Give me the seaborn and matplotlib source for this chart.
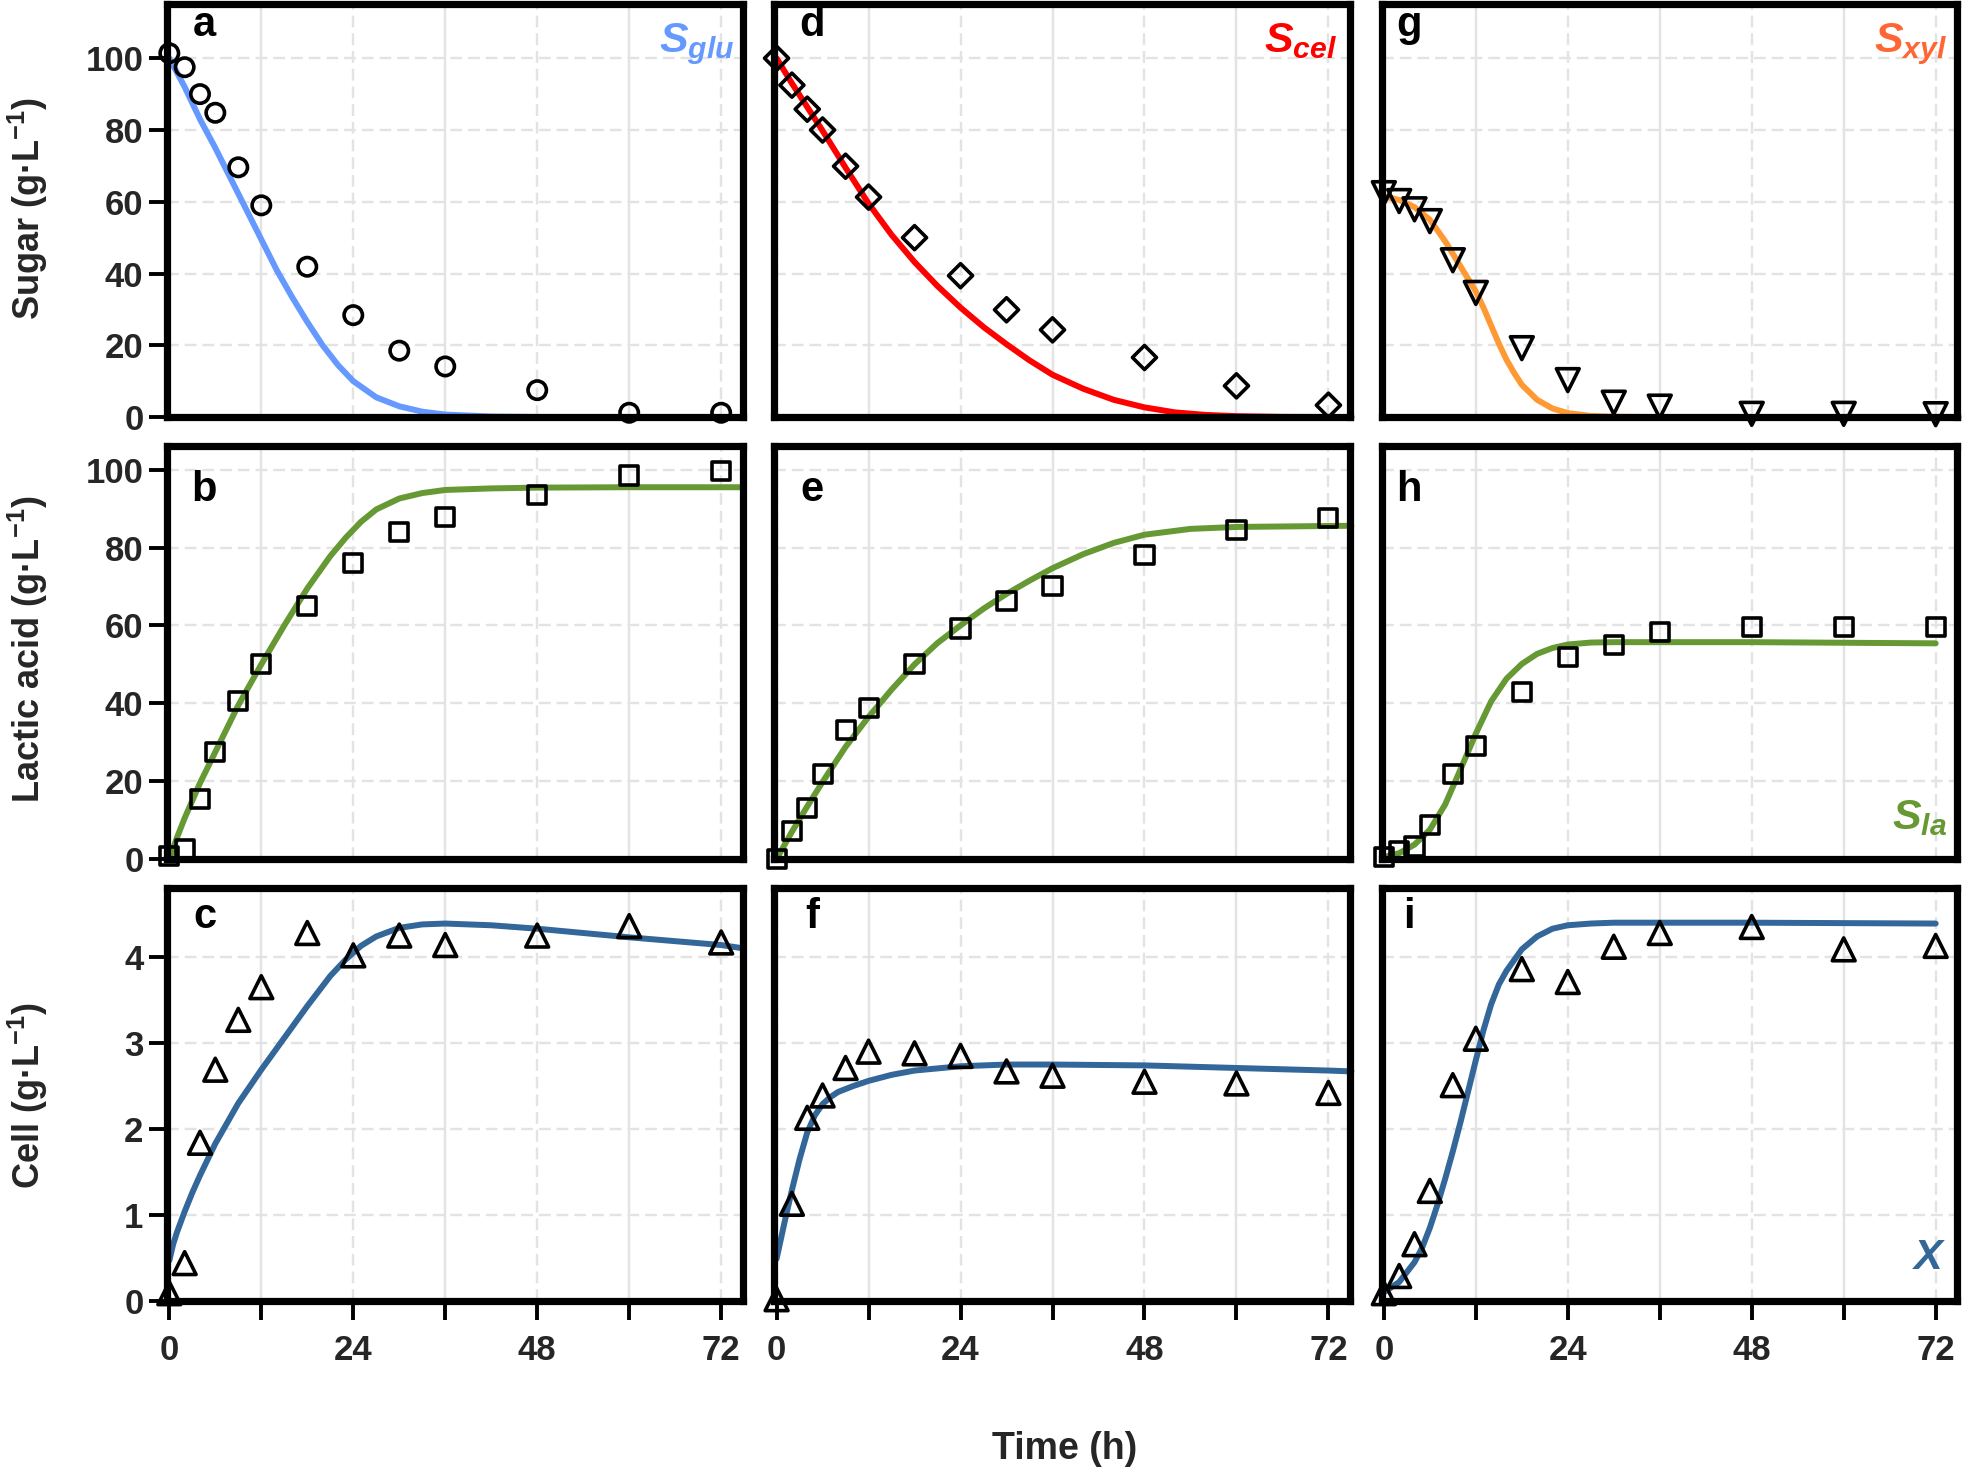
import matplotlib
matplotlib.use('Agg')
import matplotlib.pyplot as plt
from matplotlib import font_manager
from matplotlib.ticker import MultipleLocator
import seaborn as sns

# sampling times (h)
time_pts = [0, 2, 4, 6, 9, 12, 18, 24, 30, 36, 48, 60, 72]

glu_pts = [101.4, 97.5, 90.0, 84.8, 69.6, 59.0, 41.9, 28.4, 18.5, 14.1, 7.5, 1.2, 1.2]
cel_pts = [100.0, 92.5, 85.8, 80.0, 69.9, 61.3, 50.0, 39.4, 29.9, 24.3, 16.6, 8.7, 3.3]
xyl_pts = [62.4, 60.2, 57.9, 54.6, 43.7, 34.6, 19.2, 10.3, 4.0, 2.9, 0.9, 0.9, 0.8]

la_glu_pts = [0.8, 2.6, 15.3, 27.5, 40.6, 50.0, 65.1, 76.0, 84.0, 87.9, 93.6, 98.5, 99.7]
la_cel_pts = [0.0, 7.2, 13.2, 21.9, 33.2, 38.7, 50.2, 59.2, 66.2, 70.2, 78.1, 84.5, 87.7]
la_xyl_pts = [0.5, 2.0, 3.2, 8.8, 21.8, 29.1, 42.9, 52.0, 55.0, 58.2, 59.7, 59.5, 59.7]

x_glu_pts = [0.09, 0.44, 1.84, 2.69, 3.27, 3.65, 4.28, 4.02, 4.25, 4.14, 4.25, 4.36, 4.17]
x_cel_pts = [0.02, 1.13, 2.13, 2.39, 2.71, 2.90, 2.88, 2.85, 2.67, 2.62, 2.55, 2.53, 2.42]
x_xyl_pts = [0.09, 0.29, 0.66, 1.28, 2.51, 3.05, 3.86, 3.71, 4.12, 4.28, 4.35, 4.09, 4.13]

# model curves
glu_fit_t = [0, 2, 4, 6, 8, 10, 12, 14, 16, 18, 20, 22, 24, 27, 30, 33, 36, 42, 48, 60, 75]
glu_fit = [100, 92, 83, 75, 66.5, 58, 49.5, 41, 33.5, 26.5, 20, 14.5, 10, 5.5, 3, 1.5,
           0.7, 0.15, 0.03, 0, 0]
cel_fit_t = [0, 2, 4, 6, 9, 12, 15, 18, 21, 24, 27, 30, 33, 36, 40, 44, 48, 52, 56, 60, 66, 75]
cel_fit = [100, 93, 86.4, 79.8, 69.5, 59.5, 50.8, 43.2, 36.5, 30.5, 25.1, 20.3, 15.8, 11.8,
           7.9, 4.8, 2.7, 1.3, 0.6, 0.25, 0.05, 0]
xyl_fit_t = [0, 2, 4, 6, 8, 10, 12, 13, 14, 15, 16, 17, 18, 20, 22, 24, 27, 30, 36, 75]
xyl_fit = [61.5, 60.5, 58.5, 55, 49, 42, 35, 30.5, 25.5, 20.5, 16, 12.3, 9, 4.8, 2.4, 1.1,
           0.3, 0.1, 0, 0]

la_glu_fit_t = [0, 1, 2, 4, 6, 9, 12, 15, 18, 21, 23, 25, 27, 30, 33, 36, 42, 48, 60, 75]
la_glu_fit = [0, 5.5, 10.5, 19.5, 27.5, 39.5, 50, 60, 69.5, 77.8, 82.5, 86.6, 89.8, 92.6,
              94.0, 94.8, 95.2, 95.4, 95.5, 95.5]
la_cel_fit_t = [0, 2, 4, 6, 9, 12, 15, 18, 21, 24, 27, 30, 33, 36, 40, 44, 48, 54, 60, 75]
la_cel_fit = [0, 7, 13.5, 19.8, 28.8, 36.5, 43.5, 50, 55.5, 60, 64.3, 68.1, 71.5, 74.7, 78.3,
              81.2, 83.3, 84.8, 85.3, 85.6]
la_xyl_fit_t = [0, 2, 4, 6, 8, 9, 10, 12, 14, 16, 18, 20, 22, 24, 27, 30, 48, 72]
la_xyl_fit = [0.5, 1.5, 3.7, 7.5, 14, 18.5, 23, 32.2, 40.5, 46.3, 50.1, 52.7, 54.2, 55.1,
              55.6, 55.7, 55.7, 55.4]

x_glu_fit_t = [0, 0.5, 1, 2, 3, 4, 6, 9, 12, 15, 18, 21, 23, 25, 27, 30, 33, 36, 42, 48, 60,
               72, 75]
x_glu_fit = [0.47, 0.66, 0.8, 1.04, 1.26, 1.46, 1.83, 2.3, 2.69, 3.06, 3.43, 3.78, 3.97,
             4.13, 4.24, 4.34, 4.38, 4.39, 4.37, 4.33, 4.23, 4.14, 4.1]
x_cel_fit_t = [0, 1, 2, 3, 4, 5, 6, 7, 8, 10, 12, 15, 18, 24, 30, 36, 48, 60, 72, 75]
x_cel_fit = [0.49, 0.9, 1.29, 1.65, 1.96, 2.16, 2.29, 2.37, 2.43, 2.5, 2.56, 2.63, 2.68,
             2.73, 2.75, 2.75, 2.74, 2.71, 2.68, 2.67]
x_xyl_fit_t = [0, 2, 4, 5, 6, 7, 8, 9, 10, 11, 12, 13, 14, 15, 16, 18, 20, 22, 24, 27, 30, 48, 72]
x_xyl_fit = [0.1, 0.22, 0.45, 0.62, 0.85, 1.12, 1.42, 1.74, 2.08, 2.44, 2.8, 3.15, 3.45, 3.68,
             3.84, 4.09, 4.24, 4.33, 4.37, 4.39, 4.4, 4.4, 4.39]

panel_letters = ['a', 'd', 'g', 'b', 'e', 'h', 'c', 'f', 'i']
row_labels = ['Sugar (g·L$^{-1}$)', 'Lactic acid (g·L$^{-1}$)', 'Cell (g·L$^{-1}$)']

sns.set_theme(style='white')
names = {f.name for f in font_manager.fontManager.ttflist}
tick_font = 'Liberation Sans Narrow' if 'Liberation Sans Narrow' in names else 'Liberation Sans'
plt.rcParams['font.family'] = ['Liberation Sans', 'DejaVu Sans']
plt.rcParams['mathtext.fontset'] = 'custom'
plt.rcParams['mathtext.rm'] = 'Liberation Sans:bold'
plt.rcParams['mathtext.it'] = 'Liberation Sans:italic:bold'
plt.rcParams['mathtext.bf'] = 'Liberation Sans:bold'

BLUE = '#6699FF'
RED = '#FF0000'
ORANGE = '#FF9933'
GREEN = '#669933'
STEEL = '#336699'

# one entry per panel, row by row
panels = [
    (glu_pts, 'o', 175, glu_fit_t, glu_fit, BLUE),
    (cel_pts, 'D', 150, cel_fit_t, cel_fit, RED),
    (xyl_pts, 'v', 270, xyl_fit_t, xyl_fit, ORANGE),
    (la_glu_pts, 's', 170, la_glu_fit_t, la_glu_fit, GREEN),
    (la_cel_pts, 's', 170, la_cel_fit_t, la_cel_fit, GREEN),
    (la_xyl_pts, 's', 170, la_xyl_fit_t, la_xyl_fit, GREEN),
    (x_glu_pts, '^', 270, x_glu_fit_t, x_glu_fit, STEEL),
    (x_cel_pts, '^', 270, x_cel_fit_t, x_cel_fit, STEEL),
    (x_xyl_pts, '^', 270, x_xyl_fit_t, x_xyl_fit, STEEL),
]
row_ylim = [(0, 115), (0, 106), (0, 4.8)]
row_yticks = [[0, 20, 40, 60, 80, 100], [0, 20, 40, 60, 80, 100], [0, 1, 2, 3, 4]]
letter_y = [0.95, 0.895, 0.93]
letter_x = [0.065, 0.066, 0.048]

fig, axes = plt.subplots(3, 3, figsize=(19.65, 14.7), dpi=100)
fig.subplots_adjust(left=0.085, right=0.996, top=0.997, bottom=0.115,
                    wspace=0.055, hspace=0.071)

grid_kw = dict(color='#E3E3E3', linewidth=1.7)
for i, ax in enumerate(axes.flat):
    r, c = divmod(i, 3)
    pts, mk, size, ft, fv, col = panels[i]
    ax.set_axisbelow(True)
    sns.lineplot(x=ft, y=fv, ax=ax, color=col, linewidth=4.3, zorder=3,
                 solid_capstyle='round', clip_on=False)
    sns.scatterplot(x=time_pts, y=pts, ax=ax, marker=mk, s=size, facecolors='none',
                    edgecolor='black', linewidth=2.6, zorder=4, clip_on=False, legend=False)
    ax.set_xlim(-0.3, 74.8)
    ax.set_ylim(*row_ylim[r])
    ax.set_xticks([0, 24, 48, 72])
    ax.xaxis.set_minor_locator(MultipleLocator(12))
    ax.set_yticks(row_yticks[r])
    ax.grid(which='major', axis='y', linestyle=(0, (5, 2.5)), **grid_kw)
    ax.grid(which='major', axis='x', linestyle=(0, (5, 2.5)), **grid_kw)
    ax.grid(which='minor', axis='x', linestyle='-', **grid_kw)
    for sp in ax.spines.values():
        sp.set_visible(True)
        sp.set_linewidth(5.2)
        sp.set_color('black')
        sp.set_zorder(5)
    ax.set_xlabel('')
    ax.set_ylabel('')

    if r == 2:
        ax.tick_params(axis='x', which='both', direction='out', length=14, width=2.8,
                       pad=10, bottom=True, color='black')
        ax.set_xticklabels(['0', '24', '48', '72'], fontfamily=tick_font,
                           fontweight='bold', fontsize=25)
    else:
        ax.tick_params(axis='x', which='both', length=0, labelbottom=False)
    if c == 0:
        ax.tick_params(axis='y', which='both', direction='out', length=13, width=2.8,
                       pad=4, left=True, color='black')
        ax.set_yticklabels([f'{v:g}' for v in row_yticks[r]], fontfamily=tick_font,
                           fontweight='bold', fontsize=25)
    else:
        ax.tick_params(axis='y', which='both', length=0, labelleft=False)

    ax.text(letter_x[c], letter_y[r], panel_letters[i], transform=ax.transAxes,
            fontsize=30, fontweight='bold', ha='center', va='center', color='black')

# species labels
axes[0, 0].text(0.985, 0.96, r'$S_{glu}$', transform=axes[0, 0].transAxes,
                ha='right', va='top', fontsize=31, color=BLUE)
axes[0, 1].text(0.978, 0.96, r'$S_{cel}$', transform=axes[0, 1].transAxes,
                ha='right', va='top', fontsize=31, color=RED)
axes[0, 2].text(0.982, 0.96, r'$S_{xyl}$', transform=axes[0, 2].transAxes,
                ha='right', va='top', fontsize=31, color='#FF6633')
axes[1, 2].text(0.982, 0.05, r'$S_{la}$', transform=axes[1, 2].transAxes,
                ha='right', va='bottom', fontsize=31, color=GREEN)
axes[2, 2].text(0.982, 0.055, r'$X$', transform=axes[2, 2].transAxes,
                ha='right', va='bottom', fontsize=31, color=STEEL)

# shared axis titles
row_centers = [0.858, 0.558, 0.255]
for lab, yc in zip(row_labels, row_centers):
    fig.text(0.003, yc, lab, rotation=90, ha='left', va='center',
             fontsize=26, fontweight='bold')
fig.text(0.542, 0.014, 'Time (h)', ha='center', va='center', fontsize=27, fontweight='bold')

fig.savefig('out.png', dpi=100)
